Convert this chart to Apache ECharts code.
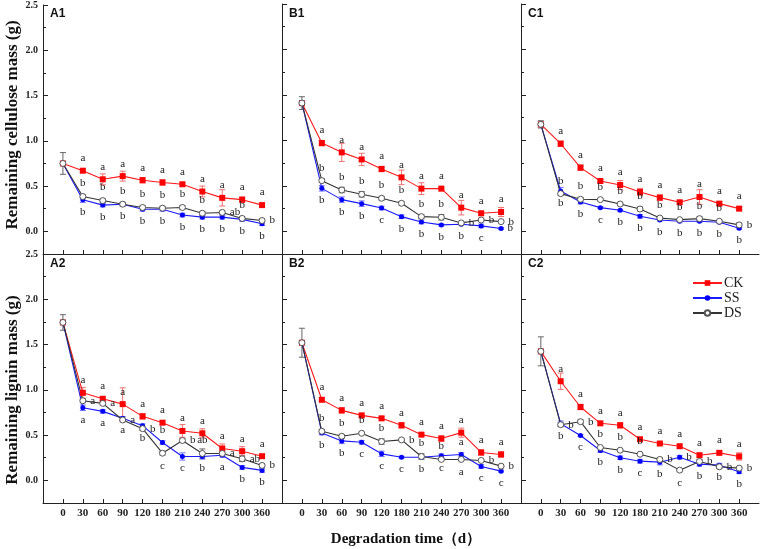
<!DOCTYPE html>
<html><head><meta charset="utf-8">
<script src="https://cdn.jsdelivr.net/npm/echarts@6/dist/echarts.min.js"></script>
<style>html,body{margin:0;padding:0;background:#fff}#c{width:760px;height:549px}</style>
</head><body><div id="c"></div>
<script>
// ---------- DATA ----------
const xLabels = ['0','30','60','90','120','180','210','240','270','300','360'];
const yTickValues = [0, 0.5, 1.0, 1.5, 2.0, 2.5];
const yMinorValues = [0.25, 0.75, 1.25, 1.75, 2.25];
const seriesNames = ['CK','SS','DS'];
const panelNames = ['A1','B1','C1','A2','B2','C2'];
const yTitleTop = 'Remaining cellulose mass (g)';
const yTitleBottom = 'Remaining lignin mass (g)';
const xTitle = 'Degradation time（d）';

// A1 cellulose
const a1CK = [0.75, 0.67, 0.575, 0.61, 0.565, 0.54, 0.52, 0.44, 0.37, 0.35, 0.29];
const a1SS = [0.75, 0.35, 0.29, 0.30, 0.245, 0.245, 0.18, 0.157, 0.157, 0.132, 0.085];
const a1DS = [0.75, 0.385, 0.34, 0.30, 0.264, 0.256, 0.264, 0.20, 0.209, 0.143, 0.12];
const a1CKerr = [0, 0.02, 0.06, 0.055, 0.03, 0.03, 0.02, 0.06, 0.09, 0.03, 0.02];
const a1SSerr = [0, 0.03, 0.02, 0.02, 0.02, 0.02, 0.02, 0.02, 0.02, 0.02, 0.02];
const a1DSerr = [0.12, 0.02, 0.02, 0.02, 0.02, 0.02, 0.02, 0.02, 0.02, 0.02, 0.02];
const a1CKlab = ['', 'a','a','a','a','a','a','a','a','a','a'];
const a1SSlab = ['', 'b','b','b','b','b','b','b','b','b','b'];
const a1DSlab = ['', 'b','b','b','b','b','b','b','ab','b','b'];

// B1 cellulose
const b1CK = [1.41, 0.97, 0.868, 0.79, 0.685, 0.593, 0.469, 0.469, 0.26, 0.198, 0.212];
const b1SS = [1.41, 0.472, 0.348, 0.304, 0.256, 0.161, 0.102, 0.07, 0.077, 0.059, 0.03];
const b1DS = [1.41, 0.557, 0.454, 0.407, 0.363, 0.308, 0.161, 0.154, 0.092, 0.124, 0.106];
const b1CKerr = [0, 0.03, 0.1, 0.068, 0.03, 0.08, 0.065, 0.01, 0.08, 0.02, 0.05];
const b1SSerr = [0, 0.03, 0.03, 0.03, 0.02, 0.02, 0.02, 0.01, 0.01, 0.02, 0.01];
const b1DSerr = [0.07, 0.02, 0.03, 0.03, 0.02, 0.02, 0.02, 0.03, 0.01, 0.01, 0.01];
const b1CKlab = ['', 'a','a','a','a','a','a','a','a','a','a'];
const b1SSlab = ['', 'b','b','b','c','b','b','b','b','c','b'];
const b1DSlab = ['', 'b','b','b','b','b','b','b','b','b','b'];

// C1 cellulose
const c1CK = [1.176, 0.963, 0.70, 0.553, 0.509, 0.432, 0.37, 0.319, 0.377, 0.304, 0.249];
const c1SS = [1.176, 0.443, 0.322, 0.26, 0.231, 0.165, 0.124, 0.11, 0.11, 0.099, 0.033];
const c1DS = [1.176, 0.414, 0.352, 0.348, 0.30, 0.245, 0.146, 0.128, 0.139, 0.11, 0.07];
const c1CKerr = [0, 0.03, 0.03, 0.02, 0.05, 0.04, 0.03, 0.02, 0.08, 0.02, 0.02];
const c1SSerr = [0, 0.04, 0.02, 0.01, 0.01, 0.02, 0.01, 0.01, 0.01, 0.01, 0.01];
const c1DSerr = [0.04, 0.02, 0.02, 0.01, 0.01, 0.02, 0.01, 0.01, 0.02, 0.01, 0.02];
const c1CKlab = ['', 'a','a','a','a','a','a','a','a','a','a'];
const c1SSlab = ['', 'b','b','c','b','b','b','b','b','b','b'];
const c1DSlab = ['', 'b','b','b','b','b','b','b','b','b','b'];

// A2 lignin
const a2CK = [1.744, 0.967, 0.901, 0.842, 0.707, 0.637, 0.546, 0.52, 0.352, 0.322, 0.267];
const a2SS = [1.744, 0.802, 0.762, 0.685, 0.604, 0.418, 0.264, 0.264, 0.278, 0.143, 0.11];
const a2DS = [1.744, 0.879, 0.85, 0.667, 0.571, 0.30, 0.44, 0.297, 0.297, 0.238, 0.165];
const a2CKerr = [0, 0.06, 0.02, 0.18, 0.03, 0.02, 0.07, 0.05, 0.05, 0.05, 0.02];
const a2SSerr = [0, 0.03, 0.02, 0.02, 0.02, 0.02, 0.04, 0.03, 0.02, 0.02, 0.02];
const a2DSerr = [0.086, 0.02, 0.02, 0.02, 0.02, 0.02, 0.02, 0.05, 0.02, 0.03, 0.02];
const a2CKlab = ['', 'a','a','a','a','a','a','a','a','a','a'];
const a2SSlab = ['', 'a','a','a','b','b','c','b','a','b','b'];
const a2DSlab = ['', 'a','a','a','b','c','b','ab','a','ab','b'];

// B2 lignin
const b2CK = [1.52, 0.89, 0.773, 0.718, 0.685, 0.608, 0.505, 0.462, 0.527, 0.308, 0.286];
const b2SS = [1.52, 0.524, 0.436, 0.421, 0.293, 0.256, 0.256, 0.271, 0.286, 0.154, 0.102];
const b2DS = [1.52, 0.542, 0.487, 0.52, 0.429, 0.447, 0.264, 0.231, 0.231, 0.22, 0.157];
const b2CKerr = [0, 0.02, 0.03, 0.02, 0.02, 0.03, 0.02, 0.03, 0.05, 0.03, 0.03];
const b2SSerr = [0, 0.02, 0.03, 0.02, 0.03, 0.01, 0.02, 0.02, 0.02, 0.02, 0.01];
const b2DSerr = [0.16, 0.02, 0.02, 0.01, 0.03, 0.01, 0.03, 0.01, 0.01, 0.01, 0.01];
const b2CKlab = ['', 'a','a','a','a','a','a','a','a','a','a'];
const b2SSlab = ['', 'b','b','c','c','c','b','c','a','c','c'];
const b2DSlab = ['', 'b','b','b','b','b','b','b','a','b','b'];

// C2 lignin
const c2CK = [1.425, 1.095, 0.81, 0.63, 0.608, 0.454, 0.407, 0.377, 0.278, 0.304, 0.264];
const c2SS = [1.425, 0.626, 0.495, 0.33, 0.249, 0.212, 0.201, 0.256, 0.179, 0.168, 0.095];
const c2DS = [1.425, 0.615, 0.648, 0.363, 0.333, 0.289, 0.231, 0.113, 0.209, 0.15, 0.135];
const c2CKerr = [0, 0.09, 0.03, 0.02, 0.03, 0.02, 0.02, 0.02, 0.02, 0.02, 0.04];
const c2SSerr = [0, 0.03, 0.01, 0.02, 0.02, 0.02, 0.03, 0.02, 0.02, 0.02, 0.02];
const c2DSerr = [0.16, 0.02, 0.02, 0.01, 0.01, 0.01, 0.02, 0.01, 0.02, 0.02, 0.01];
const c2CKlab = ['', 'a','a','a','a','a','a','a','a','a','a'];
const c2SSlab = ['', 'b','c','b','b','c','b','b','b','b','b'];
const c2DSlab = ['', 'b','b','b','b','b','b','c','b','b','b'];

// ---------- LAYOUT / STYLE ----------
const SERIF = '"Liberation Serif","Times New Roman",serif';
const SANS = '"Liberation Sans",Arial,sans-serif';
const colLeft = [43, 282, 521];
const colWidth = [239, 239, 238];
const rowTop = [4, 254];
const rowHeight = [250, 249];
const styles = {
  CK: {line:'#ff1a1a', fill:'#ff0000', border:'#ff0000', err:'#f07070', symbol:'rect', size:6, bw:0},
  SS: {line:'#1a1aff', fill:'#0000ff', border:'#0000ff', err:'#7070ff', symbol:'circle', size:5, bw:0},
  DS: {line:'#333333', fill:'#ffffff', border:'#555555', err:'#666666', symbol:'circle', size:6, bw:1}
};
// label placement per point (index 1..10): t=top, b=bottom, r=right
const placement = {
  A1: {CK:'tttttttttt', SS:'bbbbbbbbbb', DS:'tttttttrtr'},
  B1: {CK:'tttttttttt', SS:'bbbbbbbbbr', DS:'tttttttrrr'},
  C1: {CK:'tttttttttt', SS:'bbbbbbbbbb', DS:'tttttttttr'},
  A2: {CK:'tttttttttt', SS:'bbbbtbbbbb', DS:'rrrrbrtrrr'},
  B2: {CK:'tttttttttt', SS:'bbbbbbbtbb', DS:'ttttrttbrr'},
  C2: {CK:'tttttttttt', SS:'bbbbbbrbbb', DS:'rrtttrbrrr'}
};
const POS = {t:'top', b:'bottom', r:'right'};

const panels = [
  {CK:a1CK, SS:a1SS, DS:a1DS, CKerr:a1CKerr, SSerr:a1SSerr, DSerr:a1DSerr, CKlab:a1CKlab, SSlab:a1SSlab, DSlab:a1DSlab},
  {CK:b1CK, SS:b1SS, DS:b1DS, CKerr:b1CKerr, SSerr:b1SSerr, DSerr:b1DSerr, CKlab:b1CKlab, SSlab:b1SSlab, DSlab:b1DSlab},
  {CK:c1CK, SS:c1SS, DS:c1DS, CKerr:c1CKerr, SSerr:c1SSerr, DSerr:c1DSerr, CKlab:c1CKlab, SSlab:c1SSlab, DSlab:c1DSlab},
  {CK:a2CK, SS:a2SS, DS:a2DS, CKerr:a2CKerr, SSerr:a2SSerr, DSerr:a2DSerr, CKlab:a2CKlab, SSlab:a2SSlab, DSlab:a2DSlab},
  {CK:b2CK, SS:b2SS, DS:b2DS, CKerr:b2CKerr, SSerr:b2SSerr, DSerr:b2DSerr, CKlab:b2CKlab, SSlab:b2SSlab, DSlab:b2DSlab},
  {CK:c2CK, SS:c2SS, DS:c2DS, CKerr:c2CKerr, SSerr:c2SSerr, DSerr:c2DSerr, CKlab:c2CKlab, SSlab:c2SSlab, DSlab:c2DSlab}
];

const grids = [], xAxes = [], yAxes = [], series = [], graphics = [];
const xIdx = xLabels.map((_, i) => i);
const axisColor = '#222';

panels.forEach((p, gi) => {
  const row = Math.floor(gi / 3), col = gi % 3;
  grids.push({left: colLeft[col], top: rowTop[row], width: colWidth[col], height: rowHeight[row], containLabel: false});
  xAxes.push({
    type: 'value', gridIndex: gi, min: -1, max: 11,
    axisLine: {show: true, onZero: false, lineStyle: {color: axisColor, width: 1}},
    axisTick: {show: true, inside: true, length: 4, customValues: xIdx, lineStyle: {color: axisColor}},
    axisLabel: {show: row === 1, customValues: xIdx, formatter: v => xLabels[v] || '',
      fontFamily: SERIF, fontWeight: 'bold', fontSize: 11, color: axisColor, margin: 5},
    splitLine: {show: false}
  });
  yAxes.push({
    type: 'value', gridIndex: gi, position: 'left', min: -0.25, max: 2.5,
    axisLine: {show: true, onZero: false, lineStyle: {color: axisColor, width: 1}},
    axisTick: {show: true, inside: true, length: 5, customValues: yTickValues, lineStyle: {color: axisColor}},
    axisLabel: {show: col === 0, customValues: yTickValues, formatter: v => v.toFixed(1),
      fontFamily: SERIF, fontWeight: 'bold', fontSize: 10, color: axisColor, margin: 5,
      showMinLabel: true, showMaxLabel: true},
    splitLine: {show: false}
  });
  yAxes.push({
    type: 'value', gridIndex: gi, position: 'left', min: -0.25, max: 2.5,
    axisLine: {show: false, onZero: false},
    axisTick: {show: true, inside: true, length: 3, customValues: yMinorValues, lineStyle: {color: axisColor}},
    axisLabel: {show: false},
    splitLine: {show: false}
  });
  const pname = panelNames[gi];
  seriesNames.forEach(sn => {
    const st = styles[sn];
    const vals = p[sn], errs = p[sn + 'err'], labs = p[sn + 'lab'];
    const place = placement[pname][sn];
    series.push({
      type: 'custom', name: sn + '_err_' + pname, xAxisIndex: gi, yAxisIndex: gi * 2,
      silent: true, z: 2, animation: false,
      data: vals.map((v, i) => [i, v, errs[i]]),
      renderItem: (params, api) => {
        const x = api.value(0), y = api.value(1), e = api.value(2);
        if (!e) return null;
        const t = api.coord([x, y + e]), b = api.coord([x, y - e]);
        const hw = 3, sty = {stroke: st.err, lineWidth: 1};
        return {type: 'group', children: [
          {type: 'line', shape: {x1: t[0], y1: t[1], x2: b[0], y2: b[1]}, style: sty},
          {type: 'line', shape: {x1: t[0] - hw, y1: t[1], x2: t[0] + hw, y2: t[1]}, style: sty},
          {type: 'line', shape: {x1: b[0] - hw, y1: b[1], x2: b[0] + hw, y2: b[1]}, style: sty}
        ]};
      }
    });
    series.push({
      type: 'line', name: sn, xAxisIndex: gi, yAxisIndex: gi * 2, z: 3, animation: false,
      symbol: st.symbol, symbolSize: st.size, showAllSymbol: true,
      itemStyle: {color: st.fill, borderColor: st.border, borderWidth: st.bw},
      lineStyle: {color: st.line, width: 1.1},
      label: {show: false, fontFamily: SERIF, fontSize: 11, color: '#222', distance: 4},
      labelLayout: {hideOverlap: false},
      data: vals.map((v, i) => {
        const d = {value: [i, v]};
        if (labs[i]) d.label = {show: true, formatter: labs[i], position: POS[place[i - 1]]};
        return d;
      })
    });
  });
  graphics.push({type: 'text', left: colLeft[col] + 7, top: rowTop[row] + 4, z: 10,
    style: {text: pname, font: 'bold 12px ' + SANS, fill: '#111'}});
});

graphics.push({type: 'text', x: 13, y: 125, rotation: Math.PI / 2, z: 10,
  style: {text: yTitleTop, font: 'bold 17px ' + SERIF, fill: '#111', align: 'center', verticalAlign: 'middle'}});
graphics.push({type: 'text', x: 13, y: 390, rotation: Math.PI / 2, z: 10,
  style: {text: yTitleBottom, font: 'bold 17px ' + SERIF, fill: '#111', align: 'center', verticalAlign: 'middle'}});
graphics.push({type: 'text', x: 406, y: 539, z: 10,
  style: {text: xTitle, font: 'bold 15px ' + SERIF, fill: '#111', align: 'center', verticalAlign: 'middle'}});

const chart = echarts.init(document.getElementById('c'), null, {renderer: 'canvas'});
chart.setOption({
  backgroundColor: '#fff',
  animation: false,
  grid: grids, xAxis: xAxes, yAxis: yAxes, series: series, graphic: graphics,
  legend: {
    data: seriesNames, orient: 'vertical', left: 692, top: 276, padding: 0,
    itemWidth: 29, itemHeight: 7, itemGap: 1,
    textStyle: {fontFamily: SERIF, fontSize: 14, color: '#222', padding: [0, 0, 0, -3]}
  }
});
</script></body></html>
